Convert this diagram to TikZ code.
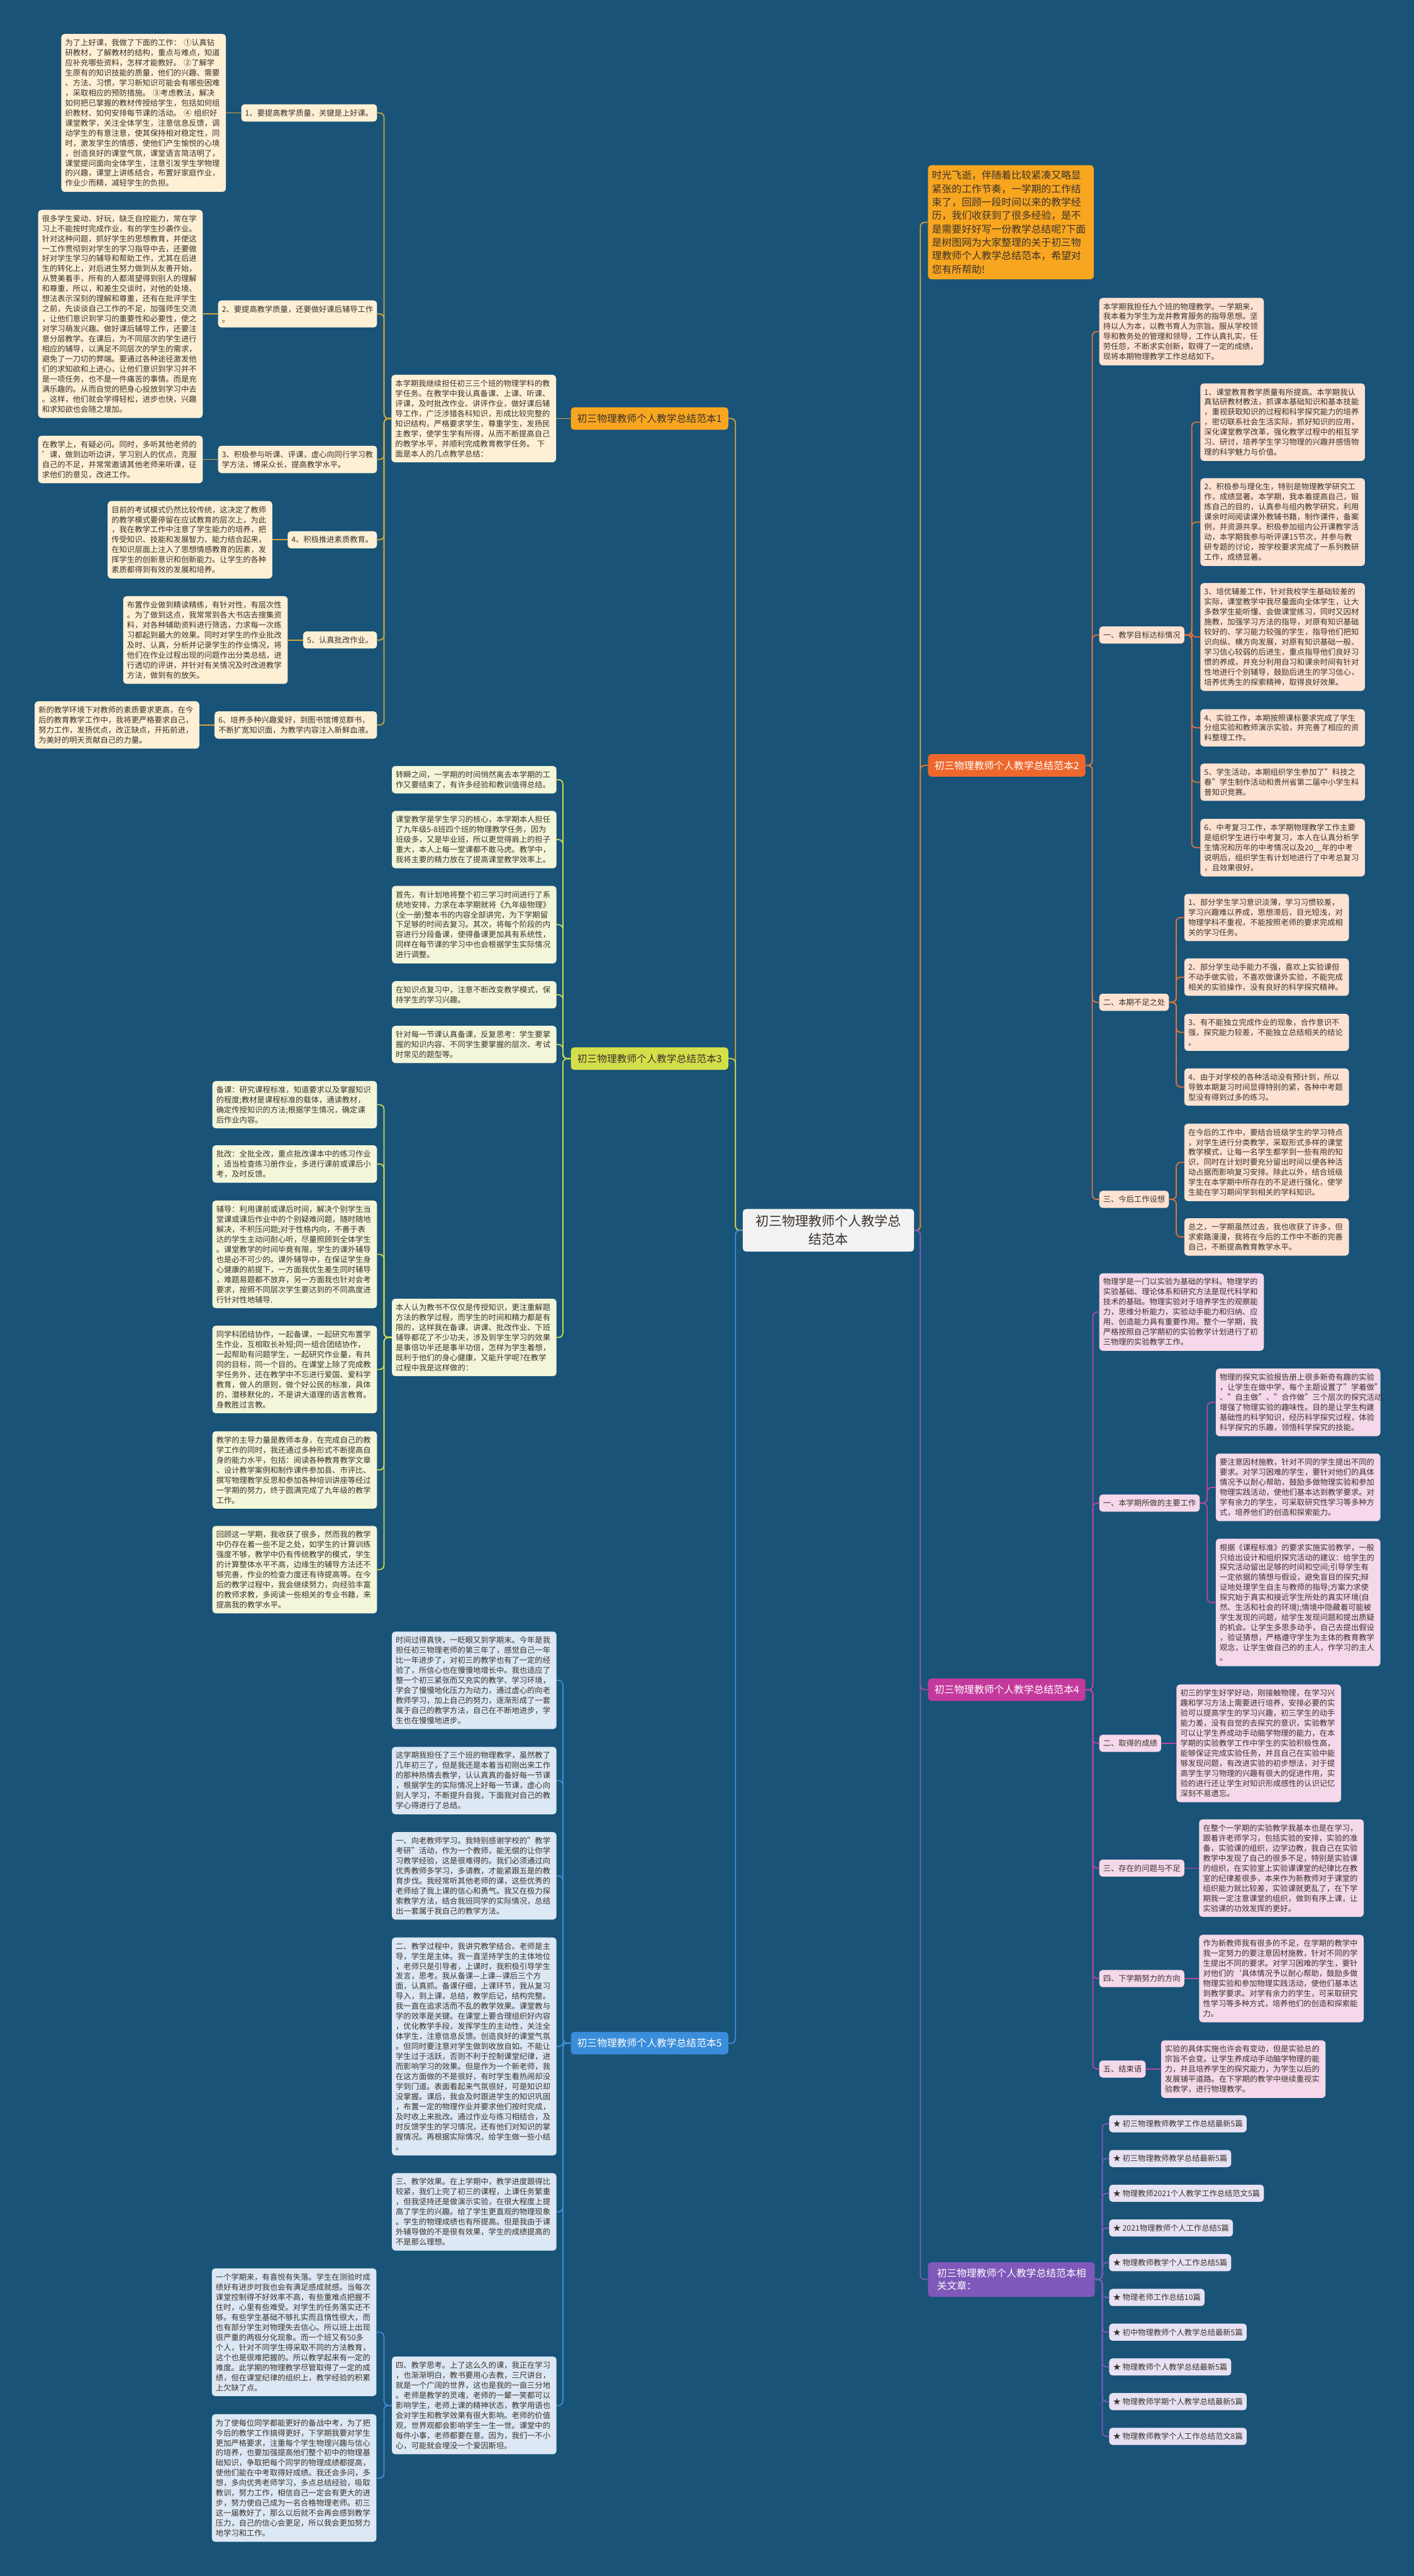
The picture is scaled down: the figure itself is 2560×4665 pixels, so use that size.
\documentclass[tikz,border=0pt]{standalone}
\usepackage{fontspec}
\setmainfont{Noto Sans CJK SC}
\usetikzlibrary{positioning}
\definecolor{sea}{RGB}{25,83,120}
\definecolor{ink}{RGB}{58,50,44}
\definecolor{amber}{RGB}{248,166,32}
\definecolor{gold}{RGB}{214,166,58}
\definecolor{cream}{RGB}{253,240,213}
\definecolor{rust}{RGB}{238,104,46}
\definecolor{rustline}{RGB}{230,116,58}
\definecolor{peach}{RGB}{253,226,210}
\definecolor{lime}{RGB}{212,224,74}
\definecolor{limeline}{RGB}{205,220,80}
\definecolor{pale}{RGB}{244,246,218}
\definecolor{rose}{RGB}{196,58,156}
\definecolor{roseline}{RGB}{184,72,160}
\definecolor{blush}{RGB}{245,216,234}
\definecolor{azure}{RGB}{58,141,218}
\definecolor{azureline}{RGB}{63,143,216}
\definecolor{sky}{RGB}{220,232,244}
\definecolor{plum}{RGB}{127,88,185}
\definecolor{plumline}{RGB}{126,91,190}
\definecolor{lilac}{RGB}{231,226,243}
\definecolor{hubfill}{RGB}{242,242,242}
\begin{document}
\begin{tikzpicture}[x=0.5pt,y=-0.5pt,
  leafbox/.style={rounded corners=3pt,align=left,text width=142pt,inner xsep=3.5pt,inner ysep=4.5pt,font=\fontsize{7pt}{9.1pt}\selectfont,text=ink},
  tagbox/.style={rounded corners=3pt,align=left,inner xsep=3.5pt,inner ysep=4.5pt,font=\fontsize{7pt}{9.1pt}\selectfont,text=ink},
  topicbox/.style={rounded corners=3pt,align=left,minimum width=142.5pt,inner xsep=5pt,inner ysep=6pt,font=\fontsize{9pt}{11pt}\selectfont},
  hubbox/.style={rounded corners=3pt,align=center,minimum width=155pt,inner ysep=5.5pt,fill=hubfill,text=ink,font=\fontsize{12pt}{16.5pt}\selectfont},
  wire/.style={line width=1pt,rounded corners=4pt}]

\fill[sea] (0,0) rectangle (2560,4665);

\node[hubbox] (c) at (1500,2228) {初三物理教师个人教学总\\结范本};

% 范本1
\node[topicbox,fill=amber,text=ink,anchor=east] (b1) at (1319,758) {初三物理教师个人教学总结范本1};
\node[leafbox,fill=cream,left=13pt of b1] (b1s) {本学期我继续担任初三三个班的物理学科的教\\
学任务。在教学中我认真备课、上课、听课、\\
评课，及时批改作业、讲评作业，做好课后辅\\
导工作，广泛涉猎各科知识，形成比较完整的\\
知识结构，严格要求学生，尊重学生，发扬民\\
主教学，使学生学有所得，从而不断提高自己\\
的教学水平，并顺利完成教育教学任务。~下\\
面是本人的几点教学总结：};

\node[tagbox,fill=cream,anchor=east] (b1p1) at (683,204.5) {1、要提高教学质量，关键是上好课。};
\node[tagbox,fill=cream,anchor=east] (b1p2) at (683,568.5) {2、要提高教学质量，还要做好课后辅导工作\\。};
\node[tagbox,fill=cream,anchor=east] (b1p3) at (683,832) {3、积极参与听课、评课，虚心向同行学习教\\学方法，博采众长，提高教学水平。};
\node[tagbox,fill=cream,anchor=east] (b1p4) at (683,977.5) {4、积极推进素质教育。};
\node[tagbox,fill=cream,anchor=east] (b1p5) at (683,1159) {5、认真批改作业。};
\node[tagbox,fill=cream,anchor=east] (b1p6) at (683,1313) {6、培养多种兴趣爱好，到图书馆博览群书，\\不断扩宽知识面，为教学内容注入新鲜血液。};

\node[leafbox,fill=cream,left=13.5pt of b1p1] (b1d1) {为了上好课，我做了下面的工作：~①认真钻\\
研教材，了解教材的结构，重点与难点，知道\\
应补充哪些资料，怎样才能教好。~②了解学\\
生原有的知识技能的质量，他们的兴趣、需要\\
、方法、习惯，学习新知识可能会有哪些困难\\
，采取相应的预防措施。~③考虑教法，解决\\
如何把已掌握的教材传授给学生，包括如何组\\
织教材、如何安排每节课的活动。~④~组织好\\
课堂教学，关注全体学生，注意信息反馈，调\\
动学生的有意注意，使其保持相对稳定性，同\\
时，激发学生的情感，使他们产生愉悦的心境\\
，创造良好的课堂气氛，课堂语言简洁明了，\\
课堂提问面向全体学生，注意引发学生学物理\\
的兴趣，课堂上讲练结合，布置好家庭作业，\\
作业少而精，减轻学生的负担。};
\node[leafbox,fill=cream,left=13.5pt of b1p2] (b1d2) {很多学生爱动、好玩，缺乏自控能力，常在学\\
习上不能按时完成作业，有的学生抄袭作业。\\
针对这种问题，抓好学生的思想教育，并使这\\
一工作贯彻到对学生的学习指导中去，还要做\\
好对学生学习的辅导和帮助工作，尤其在后进\\
生的转化上，对后进生努力做到从友善开始，\\
从赞美着手，所有的人都渴望得到别人的理解\\
和尊重，所以，和差生交谈时，对他的处境、\\
想法表示深刻的理解和尊重，还有在批评学生\\
之前，先谈谈自己工作的不足，加强师生交流\\
，让他们意识到学习的重要性和必要性，使之\\
对学习萌发兴趣。做好课后辅导工作，还要注\\
意分层教学。在课后，为不同层次的学生进行\\
相应的辅导，以满足不同层次的学生的需求，\\
避免了一刀切的弊端。要通过各种途径激发他\\
们的求知欲和上进心，让他们意识到学习并不\\
是一项任务，也不是一件痛苦的事情。而是充\\
满乐趣的。从而自觉的把身心投放到学习中去\\
。这样，他们就会学得轻松，进步也快，兴趣\\
和求知欲也会随之增加。};
\node[leafbox,fill=cream,left=13.5pt of b1p3] (b1d3) {在教学上，有疑必问。同时，多听其他老师的\\
'课，做到边听边讲，学习别人的优点，克服\\
自己的不足，并常常邀请其他老师来听课，征\\
求他们的意见，改进工作。};
\node[leafbox,fill=cream,left=13.5pt of b1p4] (b1d4) {目前的考试模式仍然比较传统，这决定了教师\\
的教学模式要停留在应试教育的层次上，为此\\
，我在教学工作中注意了学生能力的培养，把\\
传受知识、技能和发展智力、能力结合起来，\\
在知识层面上注入了思想情感教育的因素，发\\
挥学生的创新意识和创新能力。让学生的各种\\
素质都得到有效的发展和培养。};
\node[leafbox,fill=cream,left=13.5pt of b1p5] (b1d5) {布置作业做到精读精练，有针对性，有层次性\\
。为了做到这点，我常常到各大书店去搜集资\\
料，对各种辅助资料进行筛选，力求每一次练\\
习都起到最大的效果。同时对学生的作业批改\\
及时、认真，分析并记录学生的作业情况，将\\
他们在作业过程出现的问题作出分类总结，进\\
行透切的评讲，并针对有关情况及时改进教学\\
方法，做到有的放矢。};
\node[leafbox,fill=cream,left=13.5pt of b1p6] (b1d6) {新的教学环境下对教师的素质要求更高，在今\\
后的教育教学工作中，我将更严格要求自己，\\
努力工作，发扬优点，改正缺点，开拓前进，\\
为美好的明天贡献自己的力量。};

\foreach \i in {1,...,6} {
  \draw[wire,gold] (b1d\i.east) -- (b1p\i.west);
  \draw[wire,gold] (b1p\i.east) -| ([xshift=-6.5pt]b1s.west) -- (b1s.west);
}
\draw[wire,gold] (b1s.east) -- (b1.west);

% 范本3
\node[topicbox,fill=lime,text=ink,anchor=east] (b3) at (1319,1917) {初三物理教师个人教学总结范本3};
\node[leafbox,fill=pale,anchor=east] (b3t1) at (1008,1412) {转瞬之间，一学期的时间悄然离去本学期的工\\
作又要结束了，有许多经验和教训值得总结。};
\node[leafbox,fill=pale,anchor=east] (b3t2) at (1008,1520.5) {课堂教学是学生学习的核心，本学期本人担任\\
了九年级5-8班四个班的物理教学任务，因为\\
班级多，又是毕业班，所以更觉得肩上的担子\\
重大，本人上每一堂课都不敢马虎。教学中，\\
我将主要的精力放在了提高课堂教学效率上。};
\node[leafbox,fill=pale,anchor=east] (b3t3) at (1008,1674.5) {首先，有计划地将整个初三学习时间进行了系\\
统地安排，力求在本学期就将《九年级物理》\\
(全一册)整本书的内容全部讲完，为下学期留\\
下足够的时间去复习。其次，将每个阶段的内\\
容进行分段备课，使得备课更加具有系统性，\\
同样在每节课的学习中也会根据学生实际情况\\
进行调整。};
\node[leafbox,fill=pale,anchor=east] (b3t4) at (1008,1801.5) {在知识点复习中，注意不断改变教学模式，保\\
持学生的学习兴趣。};
\node[leafbox,fill=pale,anchor=east] (b3t5) at (1008,1891.5) {针对每一节课认真备课，反复思考：学生要掌\\
握的知识内容、不同学生要掌握的层次、考试\\
时常见的题型等。};
\node[leafbox,fill=pale,anchor=east] (b3t6) at (1008,2422) {本人认为教书不仅仅是传授知识，更注重解题\\
方法的教学过程，而学生的时间和精力都是有\\
限的，这样我在备课、讲课、批改作业、下班\\
辅导都花了不少功夫，涉及到学生学习的效果\\
是事倍功半还是事半功倍，怎样为学生着想，\\
既利于他们的身心健康，又能升学呢?在教学\\
过程中我是这样做的：};

\node[leafbox,fill=pale,anchor=east] (b3d1) at (683,2000.5) {备课：研究课程标准，知道要求以及掌握知识\\
的程度;教材是课程标准的载体，通读教材，\\
确定传授知识的方法;根据学生情况，确定课\\
后作业内容。};
\node[leafbox,fill=pale,anchor=east] (b3d2) at (683,2108) {批改：全批全改，重点批改课本中的练习作业\\
，适当检查练习册作业，多进行课前或课后小\\
考，及时反馈。};
\node[leafbox,fill=pale,anchor=east] (b3d3) at (683,2271.5) {辅导：利用课前或课后时间，解决个别学生当\\
堂课或课后作业中的个别疑难问题，随时随地\\
解决，不积压问题;对于性格内向，不善于表\\
达的学生主动问耐心听，尽量照顾到全体学生\\
。课堂教学的时间毕竟有限，学生的课外辅导\\
也是必不可少的。课外辅导中，在保证学生身\\
心健康的前提下，一方面我优生差生同时辅导\\
，难题易题都不放弃，另一方面我也针对会考\\
要求，按照不同层次学生要达到的不同高度进\\
行针对性地辅导.};
\node[leafbox,fill=pale,anchor=east] (b3d4) at (683,2480) {同学科团结协作，一起备课，一起研究布置学\\
生作业，互相取长补短;同一组合团结协作，\\
一起帮助有问题学生，一起研究作业量，有共\\
同的目标，同一个目的。在课堂上除了完成教\\
学任务外，还在教学中不忘进行爱国、爱科学\\
教育，做人的原则，做个好公民的标准，具体\\
的，潜移默化的，不是讲大道理的语言教育。\\
身教胜过言教。};
\node[leafbox,fill=pale,anchor=east] (b3d5) at (683,2662) {教学的主导力量是教师本身，在完成自己的教\\
学工作的同时，我还通过多种形式不断提高自\\
身的能力水平，包括：阅读各种教育教学文章\\
、设计教学案例和制作课件参加县、市评比、\\
撰写物理教学反思和参加各种培训讲座等经过\\
一学期的努力，终于圆满完成了九年级的教学\\
工作。};
\node[leafbox,fill=pale,anchor=east] (b3d6) at (683,2842.5) {回顾这一学期，我收获了很多，然而我的教学\\
中仍存在着一些不足之处，如学生的计算训练\\
强度不够，教学中仍有传统教学的模式，学生\\
的计算整体水平不高，边缘生的辅导方法还不\\
够完善，作业的检查力度还有待提高等。在今\\
后的教学过程中，我会继续努力，向经验丰富\\
的教师求教，多阅读一些相关的专业书籍，来\\
提高我的教学水平。};

\foreach \i in {1,...,6} {
  \draw[wire,limeline] (b3t\i.east) -| ([xshift=-7pt]b3.west) -- (b3.west);
  \draw[wire,limeline] (b3d\i.east) -| ([xshift=-7pt]b3t6.west) -- (b3t6.west);
}

% 范本5
\node[topicbox,fill=azure,text=white,anchor=east] (b5) at (1319,3700) {初三物理教师个人教学总结范本5};
\node[leafbox,fill=sky,anchor=east] (b5t1) at (1008,3043) {时间过得真快，一眨眼又到学期末。今年是我\\
担任初三物理老师的第三年了，感觉自己一年\\
比一年进步了，对初三的教学也有了一定的经\\
验了，所信心也在慢慢地增长中。我也适应了\\
整一个初三紧张而又充实的教学、学习环境，\\
学会了慢慢地化压力为动力，通过虚心的向老\\
教师学习，加上自己的努力，逐渐形成了一套\\
属于自己的教学方法，自己在不断地进步，学\\
生也在慢慢地进步。};
\node[leafbox,fill=sky,anchor=east] (b5t2) at (1008,3224.5) {这学期我担任了三个班的物理教学，虽然教了\\
几年初三了，但是我还是本着当初刚出来工作\\
的那种热情去教学，认认真真的备好每一节课\\
，根据学生的实际情况上好每一节课，虚心向\\
别人学习，不断提升自我，下面我对自己的教\\
学心得进行了总结。};
\node[leafbox,fill=sky,anchor=east] (b5t3) at (1008,3397) {一、向老教师学习。我特别感谢学校的"教学\\
考研"活动，作为一个教师，能无偿的让你学\\
习教学经验，这是很难得的。我们必须通过向\\
优秀教师多学习，多请教，才能紧跟五是的教\\
育步伐。我经常听其他老师的课，这些优秀的\\
老师给了我上课的信心和勇气。我又在极力探\\
索教学方法，结合我班同学的实际情况，总结\\
出一套属于我自己的教学方法。};
\node[leafbox,fill=sky,anchor=east] (b5t4) at (1008,3706) {二、教学过程中，我讲究教学结合。老师是主\\
导，学生是主体。我一直坚持学生的主体地位\\
，老师只是引导者，上课时，我积极引导学生\\
发言，思考。我从备课—上课—课后三个方\\
面，认真抓。备课仔细，上课环节，我从复习\\
导入，到上课，总结，教学后记，结构完整。\\
我一直在追求活而不乱的教学效果。课堂教与\\
学的效率是关键。在课堂上要合理组织好内容\\
，优化教学手段，发挥学生的主动性，关注全\\
体学生，注意信息反馈。创造良好的课堂气氛\\
。但同时要注意对学生做到收放自如。不能让\\
学生过于活跃，否则不利于控制课堂纪律，进\\
而影响学习的效果。但是作为一个新老师，我\\
在这方面做的不是很好，有时学生看热闹却没\\
学到门道。表面看起来气氛很好，可是知识却\\
没掌握。课后，我会及时跟进学生的知识巩固\\
，布置一定的物理作业并要求他们按时完成，\\
及时收上来批改。通过作业与练习相结合，及\\
时反馈学生的学习情况，还有他们对知识的掌\\
握情况。再根据实际情况，给学生做一些小结\\
。};
\node[leafbox,fill=sky,anchor=east] (b5t5) at (1008,4005.5) {三、教学效果。在上学期中，教学进度跟得比\\
较紧，我们上完了初三的课程，上课任务繁重\\
，但我坚持还是做演示实验，在很大程度上提\\
高了学生的兴趣。给了学生更直观的物理现象\\
。学生的物理成绩也有所提高。但是我由于课\\
外辅导做的不是很有效果，学生的成绩提高的\\
不是那么理想。};
\node[leafbox,fill=sky,anchor=east] (b5t6) at (1008,4356) {四、教学思考。上了这么久的课，我正在学习\\
，也渐渐明白，教书要用心去教，三尺讲台，\\
就是一个广阔的世界，这也是我的一亩三分地\\
。老师是教学的灵魂，老师的一颦一笑都可以\\
影响学生，老师上课的精神状态，教学用语也\\
会对学生和教学效果有很大影响。老师的价值\\
观，世界观都会影响学生一生一世。课堂中的\\
每件小事，老师都要在意。因为，我们一不小\\
心，可能就会埋没一个爱因斯坦。};
\node[leafbox,fill=sky,anchor=east] (b5d1) at (682,4223.5) {一个学期来，有喜悦有失落。学生在测验时成\\
绩好有进步时我也会有满足感成就感。当每次\\
课堂控制得不好效率不高，有些重难点把握不\\
住时，心里有些难受。对学生的任务落实还不\\
够。有些学生基础不够扎实而且惰性很大，而\\
也有部分学生对物理失去信心。所以班上出现\\
很严重的两极分化现象。而一个班又有50多\\
个人，针对不同学生得采取不同的方法教育，\\
这个也是很难把握的。所以教学起来有一定的\\
难度。此学期的物理教学尽管取得了一定的成\\
绩，但在课堂纪律的组织上，教学经验的积累\\
上欠缺了点。};
\node[leafbox,fill=sky,anchor=east] (b5d2) at (682,4487.5) {为了使每位同学都能更好的备战中考，为了把\\
今后的教学工作搞得更好，下学期我要对学生\\
更加严格要求，注重每个学生物理兴趣与信心\\
的培养，也要加强提高他们整个初中的物理基\\
础知识，争取把每个同学的物理成绩都提高，\\
使他们能在中考取得好成绩。我还会多问，多\\
想，多向优秀老师学习，多点总结经验，吸取\\
教训，努力工作，相信自己一定会有更大的进\\
步，努力使自己成为一名合格物理老师。初三\\
这一届教好了，那么以后就不会再会感到教学\\
压力，自己的信心会更足，所以我会更加努力\\
地学习和工作。};

\foreach \i in {1,...,6}
  \draw[wire,azureline] (b5t\i.east) -| ([xshift=-7pt]b5.west) -- (b5.west);
\foreach \i in {1,2}
  \draw[wire,azureline] (b5d\i.east) -| ([xshift=-7pt]b5t6.west) -- (b5t6.west);

% 导语
\node[leafbox,fill=amber,text width=143pt,inner ysep=5pt,font=\fontsize{9pt}{12.15pt}\selectfont,anchor=west] (intro) at (1680,402.5) {时光飞逝，伴随着比较紧凑又略显\\
紧张的工作节奏，一学期的工作结\\
束了，回顾一段时间以来的教学经\\
历，我们收获到了很多经验，是不\\
是需要好好写一份教学总结呢?下面\\
是树图网为大家整理的关于初三物\\
理教师个人教学总结范本，希望对\\
您有所帮助!};

% 范本2
\node[topicbox,fill=rust,text=white,anchor=west] (b2) at (1680,1386) {初三物理教师个人教学总结范本2};
\node[leafbox,fill=peach,anchor=west] (b2s) at (1990,600.5) {本学期我担任九个班的物理教学。一学期来，\\
我本着为学生为龙井教育服务的指导思想。坚\\
持以人为本，以教书育人为宗旨。服从学校领\\
导和教务处的管理和领导，工作认真扎实，任\\
劳任怨，不断求实创新，取得了一定的成绩，\\
现将本期物理教学工作总结如下。};
\node[tagbox,fill=peach,anchor=west] (b2h1) at (1990,1150) {一、教学目标达标情况};
\node[tagbox,fill=peach,anchor=west] (b2h2) at (1990,1815) {二、本期不足之处};
\node[tagbox,fill=peach,anchor=west] (b2h3) at (1990,2172) {三、今后工作设想};

\node[leafbox,fill=peach,anchor=west] (b2h1i1) at (2173,764.5) {1、课堂教育教学质量有所提高。本学期我认\\
真钻研教材教法，抓课本基础知识和基本技能\\
，重视获取知识的过程和科学探究能力的培养\\
，密切联系社会生活实际，抓好知识的应用，\\
深化课堂教学改革，强化教学过程中的相互学\\
习、研讨，培养学生学习物理的兴趣并感悟物\\
理的科学魅力与价值。};
\node[leafbox,fill=peach,anchor=west] (b2h1i2) at (2173,945.5) {2、积极参与理化生，特别是物理教学研究工\\
作，成绩显著。本学期，我本着提高自己，锻\\
炼自己的目的，认真参与组内教学研究，利用\\
课余时间阅读课外教辅书籍，制作课件，备案\\
例，并资源共享。积极参加组内公开课教学活\\
动，本学期我参与听评课15节次，并参与教\\
研专题的讨论，按学校要求完成了一系列教研\\
工作，成绩显著。};
\node[leafbox,fill=peach,anchor=west] (b2h1i3) at (2173,1153.5) {3、培优辅差工作，针对我校学生基础较差的\\
实际，课堂教学中我尽量面向全体学生，让大\\
多数学生能听懂、会做课堂练习，同时又因材\\
施教，加强学习方法的指导，对原有知识基础\\
较好的、学习能力较强的学生，指导他们把知\\
识向纵、横方向发展，对原有知识基础一般、\\
学习信心较弱的后进生，重点指导他们良好习\\
惯的养成，并充分利用自习和课余时间有针对\\
性地进行个别辅导，鼓励后进生的学习信心，\\
培养优秀生的探索精神，取得良好效果。};
\node[leafbox,fill=peach,anchor=west] (b2h1i4) at (2173,1318) {4、实验工作，本期按照课标要求完成了学生\\
分组实验和教师演示实验，并完善了相应的资\\
料整理工作。};
\node[leafbox,fill=peach,anchor=west] (b2h1i5) at (2173,1416.5) {5、学生活动，本期组织学生参加了"科技之\\
春"学生制作活动和贵州省第二届中小学生科\\
普知识竞赛。};
\node[leafbox,fill=peach,anchor=west] (b2h1i6) at (2173,1535) {6、中考复习工作，本学期物理教学工作主要\\
是组织学生进行中考复习，本人在认真分析学\\
生情况和历年的中考情况以及20\_\_年的中考\\
说明后，组织学生有计划地进行了中考总复习\\
，且效果很好。};

\node[leafbox,fill=peach,anchor=west] (b2h2i1) at (2144,1661.5) {1、部分学生学习意识淡薄，学习习惯较差，\\
学习兴趣难以养成，思想滞后，目光短浅，对\\
物理学科不重视，不能按照老师的要求完成相\\
关的学习任务。};
\node[leafbox,fill=peach,anchor=west] (b2h2i2) at (2144,1769.5) {2、部分学生动手能力不强，喜欢上实验课但\\
不动手做实验，不喜欢做课外实验，不能完成\\
相关的实验操作，没有良好的科学探究精神。};
\node[leafbox,fill=peach,anchor=west] (b2h2i3) at (2144,1869.5) {3、有不能独立完成作业的现象，合作意识不\\
强，探究能力较差，不能独立总结相关的结论\\
。};
\node[leafbox,fill=peach,anchor=west] (b2h2i4) at (2144,1968.5) {4、由于对学校的各种活动没有预计到，所以\\
导致本期复习时间显得特别的紧，各种中考题\\
型没有得到过多的练习。};

\node[leafbox,fill=peach,anchor=west] (b2h3i1) at (2144,2105) {在今后的工作中，要结合班级学生的学习特点\\
，对学生进行分类教学，采取形式多样的课堂\\
教学模式，让每一名学生都学到一些有用的知\\
识，同时在计划时要充分留出时间以便各种活\\
动占据而影响复习安排。除此以外，结合班级\\
学生在本学期中所存在的不足进行强化，使学\\
生能在学习期间学到相关的学科知识。};
\node[leafbox,fill=peach,anchor=west] (b2h3i2) at (2144,2240) {总之，一学期虽然过去，我也收获了许多，但\\
求索路漫漫，我将在今后的工作中不断的完善\\
自己，不断提高教育教学水平。};

\foreach \n in {b2s,b2h1,b2h2,b2h3}
  \draw[wire,rustline] (b2.east) -- ([xshift=6pt]b2.east) |- (\n.west);
\foreach \i in {1,...,6}
  \draw[wire,rustline] (b2h1.east) -- ([xshift=6.5pt]b2h1.east) |- (b2h1i\i.west);
\foreach \i in {1,...,4}
  \draw[wire,rustline] (b2h2.east) -- ([xshift=6.5pt]b2h2.east) |- (b2h2i\i.west);
\foreach \i in {1,2}
  \draw[wire,rustline] (b2h3.east) -- ([xshift=6.5pt]b2h3.east) |- (b2h3i\i.west);

% 范本4
\node[topicbox,fill=rose,text=white,anchor=west] (b4) at (1680,3060) {初三物理教师个人教学总结范本4};
\node[leafbox,fill=blush,anchor=west] (b4s) at (1990,2376) {物理学是一门以实验为基础的学科。物理学的\\
实验基础、理论体系和研究方法是现代科学和\\
技术的基础。物理实验对于培养学生的观察能\\
力，思维分析能力，实验动手能力和归纳、应\\
用、创造能力具有重要作用。整个一学期，我\\
严格按照自己学期初的实验教学计划进行了初\\
三物理的实验教学工作。};
\node[tagbox,fill=blush,anchor=west] (b4h1) at (1990,2722) {一、本学期所做的主要工作};
\node[tagbox,fill=blush,anchor=west] (b4h2) at (1990,3157) {二、取得的成绩};
\node[tagbox,fill=blush,anchor=west] (b4h3) at (1990,3383) {三、存在的问题与不足};
\node[tagbox,fill=blush,anchor=west] (b4h4) at (1990,3583) {四、下学期努力的方向};
\node[tagbox,fill=blush,anchor=west] (b4h5) at (1990,3747) {五、结束语};

\node[leafbox,fill=blush,anchor=west] (b4h1i1) at (2201,2539.5) {物理的探究实验报告册上很多新奇有趣的实验\\
，让学生在做中学，每个主题设置了"学着做"\\
、"自主做"、"合作做"三个层次的探究活动，\\
增强了物理实验的趣味性。目的是让学生构建\\
基础性的科学知识，经历科学探究过程，体验\\
科学探究的乐趣，领悟科学探究的技能。};
\node[leafbox,fill=blush,anchor=west] (b4h1i2) at (2201,2693.5) {要注意因材施教，针对不同的学生提出不同的\\
要求。对学习困难的学生，要针对他们的具体\\
情况予以耐心帮助，鼓励多做物理实验和参加\\
物理实践活动，使他们基本达到教学要求。对\\
学有余力的学生，可采取研究性学习等多种方\\
式，培养他们的创造和探索能力。};
\node[leafbox,fill=blush,anchor=west] (b4h1i3) at (2201,2902) {根据《课程标准》的要求实施实验教学，一般\\
只给出设计和组织探究活动的建议：给学生的\\
探究活动留出足够的时间和空间;引导学生有\\
一定依据的猜想与假设，避免盲目的探究;辩\\
证地处理学生自主与教师的指导;方案力求使\\
探究始于真实和接近学生所处的真实环境(自\\
然、生活和社会的环境);情境中隐藏着可能被\\
学生发现的问题，给学生发现问题和提出质疑\\
的机会。让学生多思多动手，自己去提出假设\\
，验证猜想，严格遵守学生为主体的教育教学\\
观念，让学生做自己的的主人，作学习的主人\\
。};
\node[leafbox,fill=blush,right=13.5pt of b4h2] (b4h2i1) {初三的学生好学好动，刚接触物理，在学习兴\\
趣和学习方法上需要进行培养，安排必要的实\\
验可以提高学生的学习兴趣，初三学生的动手\\
能力差，没有自觉的去探究的意识，实验教学\\
可以让学生养成动手动脑学物理的能力，在本\\
学期的实验教学工作中学生的实验积极性高，\\
能够保证完成实验任务，并且自己在实验中能\\
够发现问题，有改进实验的初步想法，对于提\\
高学生学习物理的兴趣有很大的促进作用，实\\
验的进行还让学生对知识形成感性的认识记忆\\
深刻不易遗忘。};
\node[leafbox,fill=blush,right=13pt of b4h3] (b4h3i1) {在整个一学期的实验教学我基本也是在学习，\\
跟着许老师学习，包括实验的安排，实验的准\\
备，实验课的组织，边学边教，我自己在实验\\
教学中发现了自己的很多不足，特别是实验课\\
的组织，在实验室上实验课课堂的纪律比在教\\
室的纪律差很多，本来作为新教师对于课堂的\\
组织能力就比较差，实验课就更乱了，在下学\\
期我一定注意课堂的组织，做到有序上课，让\\
实验课的功效发挥的更好。};
\node[leafbox,fill=blush,right=13pt of b4h4] (b4h4i1) {作为新教师我有很多的不足，在学期的教学中\\
我一定努力的要注意因材施教，针对不同的学\\
生提出不同的要求。对学习困难的学生，要针\\
对他们的`具体情况予以耐心帮助，鼓励多做\\
物理实验和参加物理实践活动，使他们基本达\\
到教学要求。对学有余力的学生，可采取研究\\
性学习等多种方式，培养他们的创造和探索能\\
力。};
\node[leafbox,fill=blush,right=13.5pt of b4h5] (b4h5i1) {实验的具体实施也许会有变动，但是实验总的\\
宗旨不会变。让学生养成动手动脑学物理的能\\
力，并且培养学生的探究能力，为学生以后的\\
发展铺平道路。在下学期的教学中继续重视实\\
验教学，进行物理教学。};

\foreach \n in {b4s,b4h1,b4h2,b4h3,b4h4,b4h5}
  \draw[wire,roseline] (b4.east) -- ([xshift=6.5pt]b4.east) |- (\n.west);
\foreach \i in {1,2,3}
  \draw[wire,roseline] (b4h1.east) -- ([xshift=6.5pt]b4h1.east) |- (b4h1i\i.west);
\foreach \i in {2,...,5}
  \draw[wire,roseline] (b4h\i.east) -- (b4h\i i1.west);

% 相关文章
\node[topicbox,fill=plum,text=white,anchor=west,minimum width=151pt] (b6) at (1680,4128) {初三物理教师个人教学总结范本相\\关文章：};
\foreach \t [count=\i] in {初三物理教师教学工作总结最新5篇,初三物理教师教学总结最新5篇,物理教师2021个人教学工作总结范文5篇,2021物理教师个人工作总结5篇,物理教师教学个人工作总结5篇,物理老师工作总结10篇,初中物理教师个人教学总结最新5篇,物理教师个人教学总结最新5篇,物理教师学期个人教学总结最新5篇,物理教师教学个人工作总结范文8篇} {
  \node[tagbox,fill=lilac,anchor=west] (b6i\i) at (2008,{3846+62.9*(\i-1)}) {★~\t};
  \draw[wire,plumline] (b6.east) -- ([xshift=6.5pt]b6.east) |- (b6i\i.west);
}

% 主干
\foreach \n/\k in {b1/gold,b3/limeline,b5/azureline}
  \draw[wire,\k] (\n.east) -| ([xshift=-6.5pt]c.west) -- (c.west);
\foreach \n/\k in {intro/gold,b2/rustline,b4/roseline,b6/plumline}
  \draw[wire,\k] (c.east) -- ([xshift=5.5pt]c.east) |- (\n.west);

\end{tikzpicture}
\end{document}
